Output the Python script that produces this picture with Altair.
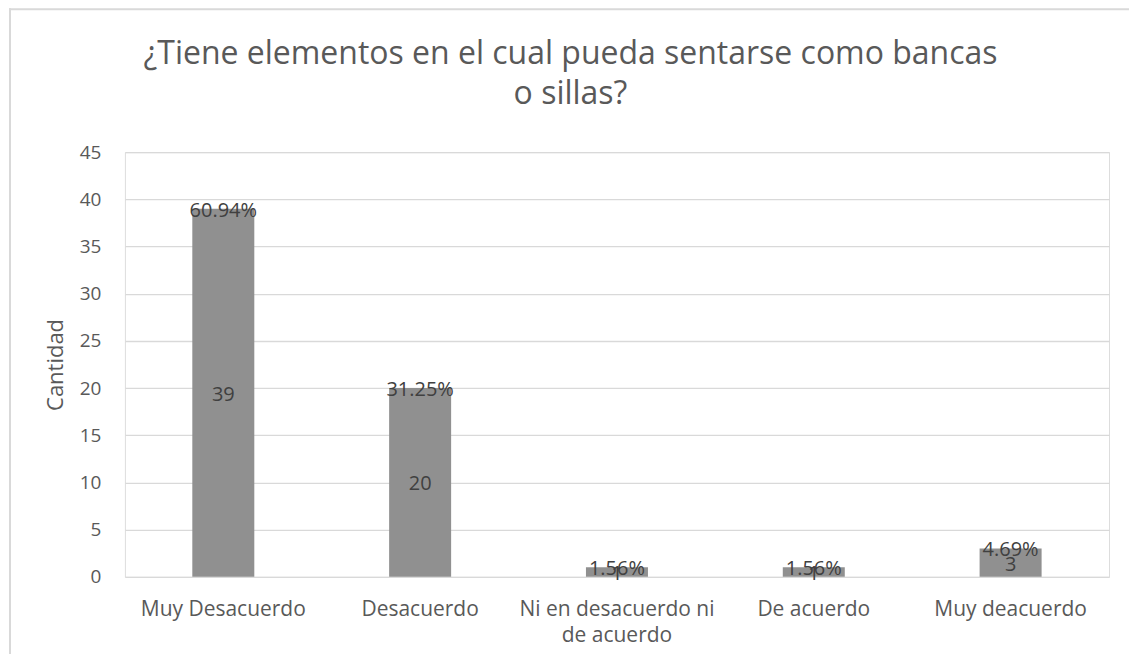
import altair as alt
import pandas as pd

categories = ["Muy Desacuerdo", "Desacuerdo", "Ni en desacuerdo ni de acuerdo", "De acuerdo", "Muy deacuerdo"]
counts = [39, 20, 1, 1, 3]
percents = ["60.94%", "31.25%", "1.56%", "1.56%", "4.69%"]
title_lines = ["¿Tiene elementos en el cual pueda sentarse como bancas", "o sillas?"]

df = pd.DataFrame({"cat": categories, "n": counts, "pct": percents})
df["half"] = df["n"] / 2

FONT = "Open Sans"
GREY = "#595959"

x = alt.X("cat:N", sort=categories, title=None,
          scale=alt.Scale(paddingInner=0.685, paddingOuter=0.3425),
          axis=alt.Axis(labelAngle=0, labelFont=FONT, labelFontSize=21, labelColor=GREY,
                        labelPadding=22, ticks=False, domain=False, labelLineHeight=26,
                        labelLimit=400,
                        labelExpr="datum.label == 'Ni en desacuerdo ni de acuerdo' ? ['Ni en desacuerdo ni', 'de acuerdo'] : datum.label"))

base = alt.Chart(df)

bars = base.mark_bar(color="#909090").encode(
    x=x,
    y=alt.Y("n:Q", title="Cantidad", scale=alt.Scale(domain=[0, 45]),
            axis=alt.Axis(values=list(range(0, 46, 5)), labelFont=FONT, labelFontSize=19,
                          labelColor=GREY, labelPadding=24, ticks=False, domain=False,
                          gridColor="#d9d9d9", gridWidth=1.3, titleFont=FONT, titleFontSize=22,
                          titleFontWeight="normal", titleColor=GREY, titlePadding=12)),
)

pct_text = base.mark_text(font=FONT, fontSize=20, color="#404040", baseline="middle", dy=2).encode(
    x=alt.X("cat:N", sort=categories), y=alt.Y("n:Q"), text="pct:N")

cnt_text = base.mark_text(font=FONT, fontSize=20, color="#404040", baseline="middle", dy=2).encode(
    x=alt.X("cat:N", sort=categories), y=alt.Y("half:Q"), text="n:Q")

one = pd.DataFrame({"a": [0]})
frame_top = alt.Chart(one).mark_rule(color="#d9d9d9", strokeWidth=2, clip=False).encode(
    x=alt.value(-116), x2=alt.value(1010), y=alt.value(-143))
frame_left = alt.Chart(one).mark_rule(color="#d9d9d9", strokeWidth=2, clip=False).encode(
    x=alt.value(-115), y=alt.value(-144), y2=alt.value(510))

title1 = alt.Chart(pd.DataFrame({"t": [title_lines[0]]})).mark_text(
    font=FONT, fontSize=32, color=GREY, align="center", baseline="alphabetic"
).encode(x=alt.value(446), y=alt.value(-88), text="t:N")
title2 = alt.Chart(pd.DataFrame({"t": [title_lines[1]]})).mark_text(
    font=FONT, fontSize=32, color=GREY, align="center", baseline="alphabetic"
).encode(x=alt.value(446), y=alt.value(-48), text="t:N")

chart = alt.layer(frame_top, frame_left, bars, pct_text, cnt_text, title1, title2).properties(
    width=985, height=425,
    padding={"left": 117, "top": 144, "right": 20, "bottom": 77},
    autosize=alt.AutoSizeParams(type="none"),
).configure_view(stroke=None).configure(background="white")

chart.save("out.html", embed_options={"renderer": "svg", "actions": False})
